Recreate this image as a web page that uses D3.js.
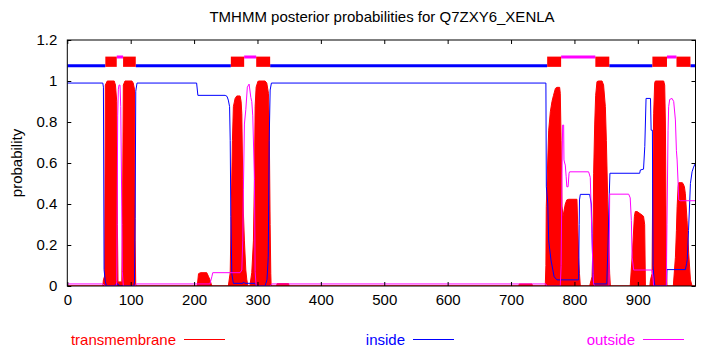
<!DOCTYPE html>
<html>
<head>
<meta charset="utf-8">
<script src="https://cdn.jsdelivr.net/npm/d3@7"></script>
<style>
  html, body { margin: 0; padding: 0; background: #fff; }
  svg { display: block; }
  text { font-family: "Liberation Sans", Arial, Helvetica, sans-serif; }
</style>
</head>
<body>
<svg id="chart" width="717" height="358"></svg>
<script>
// ---------- data ----------
const seqLength = 991;
const title = "TMHMM posterior probabilities for Q7ZXY6_XENLA";
const yLabel = "probability";
const xTickValues = [0, 100, 200, 300, 400, 500, 600, 700, 800, 900];
const xTickLabels = ["0", "100", "200", "300", "400", "500", "600", "700", "800", "900"];
const yTickValues = [0, 0.2, 0.4, 0.6, 0.8, 1.0, 1.2];
const yTickLabels = ["0", "0.2", "0.4", "0.6", "0.8", "1", "1.2"];
const legendNames = ["transmembrane", "inside", "outside"];

// transmembrane posterior probability: [residue, probability]
const tmProb = [
  [0,0],[56,0],[57,0.03],[59,0.05],[60,0.98],[63,1.0],[74,1.0],[76,0.98],[78,0.9],[79,0.3],[80,0.02],
  [86,0.02],[87,0.3],[88.4,0.98],[91,1.0],[102,1.0],[104,0.99],[106,0.96],[107,0.224],[108,0],
  [205,0],[207,0.06],[210,0.065],[220,0.065],[223,0.045],[225,0.03],[228,0],
  [254,0],[257,0.065],[258.4,0.34],[260.5,0.71],[262,0.875],[264.7,0.915],[267.4,0.927],[272.6,0.927],
  [274.2,0.9],[275.3,0.84],[276.8,0.52],[277.8,0.356],[279.4,0.22],[281.6,0.078],[283.2,0.03],[285,0],
  [288,0],[291,0.065],[293.6,0.22],[295.2,0.52],[296.3,0.875],[297.9,0.97],[300.6,0.997],[301.5,1.0],
  [312,1.0],[314.7,0.99],[317.3,0.94],[318.4,0.83],[320,0.3],[321,0.06],[321.6,0],
  [330,0],[331,0.012],[349,0.012],[350,0],
  [712,0],[713,0.01],[733,0.01],[734,0],
  [754,0],[755,0.1],[755.6,0.387],[759.4,0.76],[762,0.85],[764.6,0.9],[767,0.93],[770,0.964],
  [772.5,0.969],[776.7,0.969],[777.7,0.94],[779,0.71],[780.4,0.39],[782,0.34],[785.6,0.4],[788,0.42],
  [791,0.423],[804,0.423],[806.7,0.14],[808,0.06],[809.3,0],
  [824,0],[827.8,0.045],[829.4,0.224],[830.3,0.55],[832,0.79],[833.5,0.93],[835.6,0.997],[838,1.0],
  [843.6,1.0],[846,0.98],[848.8,0.875],[850.4,0.71],[852.5,0.42],[854,0.22],[855.6,0.06],[856.7,0],
  [888,0],[891,0.14],[892.5,0.22],[894.6,0.34],[896,0.363],[899,0.363],[906.7,0.346],[909,0.34],[910.8,0.3],[912,0],
  [919,0],[920,0.03],[922.5,0.06],[923.5,0.5],[925,0.84],[926.6,0.99],[927.7,1.0],[940.8,1.0],[942.4,0.98],
  [943.5,0.8],[945,0.14],[946,0],
  [956,0],[959.3,0.14],[960.9,0.27],[962,0.387],[963.6,0.484],[964.5,0.504],[970,0.504],[971.4,0.5],
  [973.5,0.484],[975,0.45],[977.7,0.32],[980.3,0.16],[983,0.03],[985.6,0],[991,0]
];

// inside posterior probability
const insideProb = [
  [0,0.99],[56,0.99],[57,0.97],[58,0.08],[60,0.02],[62,0.0],[75,0.0],[77,0.01],[80,0.01],[82,0.0],
  [105,0.0],[106,0.02],[107,0.33],[108,0.95],[110,0.99],
  [204,0.99],[206,0.93],[249,0.93],[252,0.925],[254,0.907],[256,0.875],[257,0.71],[258,0.34],[259.5,0.06],
  [262,0.013],[277,0.013],[278,0.02],[280,0.013],[296,0.013],[299,0.0],[312,0.0],[315,0.03],[317,0.14],
  [318.5,0.71],[320,0.956],[322,0.99],
  [755,0.99],[755.7,0.484],[758,0.4],[759.4,0.22],[761,0.18],[763,0.127],[766,0.078],[768,0.045],[772.5,0.03],
  [806.7,0.03],[807.5,0.3],[808,0.42],[809.3,0.447],[824,0.447],[826.7,0.4],[827.8,0.257],[829.4,0.03],[830.5,0.01],
  [851,0.01],[853,0.2],[855,0.45],[856,0.55],[903,0.55],[904,0.566],[909,0.57],[911,0.68],[913,0.915],
  [920,0.915],[921,0.76],[923,0.76],[924,0.1],[926,0.02],[927,0.0],[945,0.0],[946,0.08],[975,0.08],
  [977,0.11],[978,0.13],[980,0.27],[983,0.5],[985.6,0.557],[988,0.58],[991,0.6]
];

// outside posterior probability
const outsideProb = [
  [0,0.01],[56,0.01],[58,0.005],[60,0],[77,0],[78,0.02],[79,0.55],[79.5,0.83],[80.5,0.96],[81.6,0.98],
  [83.2,0.98],[84.3,0.875],[85.9,0.39],[86.8,0.07],[88.4,0],[107,0],[109,0.01],
  [225,0.01],[228,0.045],[229.5,0.065],[272.6,0.065],[275.3,0.078],[276.8,0.22],[277.8,0.47],[279.4,0.79],
  [281.6,0.86],[284,0.97],[286.8,0.985],[289.5,0.92],[291,0.9],[292.6,0.83],[295.2,0.52],[296.3,0.07],
  [297.9,0],[320,0],[322.6,0.01],
  [755,0.01],[756,0],[777.7,0],[779,0.1],[780.4,0.55],[781.4,0.785],[783,0.785],[783.5,0.615],[784.6,0.6],
  [785.6,0.59],[787,0.533],[788,0.484],[790,0.484],[791.5,0.55],[792.4,0.557],[822.4,0.557],[825,0.53],
  [827.8,0.224],[829.4,0.06],[830.3,0.01],[832,0],
  [854.5,0],[855.6,0.448],[885.6,0.448],[888,0.43],[889.8,0.32],[891,0.14],[893.5,0.078],[922.5,0.078],
  [924,0.04],[925,0],[945,0],[946,0.3],[947.7,0.76],[948.7,0.875],[950.3,0.91],[954,0.915],[956.6,0.9],
  [959.3,0.81],[960.9,0.66],[962,0.615],[963.6,0.5],[964.5,0.42],[967,0.416],[991,0.416]
];

// predicted topology segments: [start, end]
const tmSegments = [[60,78],[88,108],[258,279],[298,320],[757,779],[833,855],[923,946],[961,983]];
const insideSegments = [[0,60],[108,258],[320,757],[855,923],[983,991]];
const outsideSegments = [[78,88],[279,298],[779,833],[946,961]];

// ---------- drawing ----------
const colors = { tm: "#ff0000", inside: "#0000ff", outside: "#ff00ff" };
const svg = d3.select("#chart");
const W = 717, H = 358;
const margin = { left: 67.3, right: W - 695.5, top: 40, bottom: H - 286 };
const x = d3.scaleLinear().domain([0, seqLength]).range([margin.left, W - margin.right]);
const y = d3.scaleLinear().domain([0, 1.2]).range([H - margin.bottom, margin.top]);

svg.append("rect").attr("width", W).attr("height", H).attr("fill", "#fff");

// title
svg.append("text")
  .attr("x", 382).attr("y", 22)
  .attr("text-anchor", "middle")
  .attr("font-size", 15)
  .attr("fill", "#000")
  .text(title);

// y label
svg.append("text")
  .attr("transform", "translate(22,163) rotate(-90)")
  .attr("text-anchor", "middle")
  .attr("font-size", 15)
  .attr("fill", "#000")
  .text(yLabel);

const plot = svg.append("g");
const clipId = "clip";
svg.append("clipPath").attr("id", clipId).append("rect")
  .attr("x", x(0)).attr("y", y(1.2)).attr("width", x(seqLength) - x(0)).attr("height", y(0) - y(1.2));
plot.attr("clip-path", `url(#${clipId})`);

// TM area
const area = d3.area().x(d => x(d[0])).y0(y(0)).y1(d => y(d[1]));
plot.append("path").datum(tmProb)
  .attr("d", area).attr("fill", colors.tm).attr("stroke", colors.tm).attr("stroke-width", 1);

const line = d3.line().x(d => x(d[0])).y(d => y(d[1]));
plot.append("path").datum(insideProb)
  .attr("d", line).attr("fill", "none").attr("stroke", colors.inside).attr("stroke-width", 1);
plot.append("path").datum(outsideProb)
  .attr("d", line).attr("fill", "none").attr("stroke", colors.outside).attr("stroke-width", 1);

// topology bar
plot.selectAll(".insSeg").data(insideSegments).enter().append("line")
  .attr("x1", d => x(d[0])).attr("x2", d => x(d[1]))
  .attr("y1", y(1.074)).attr("y2", y(1.074))
  .attr("stroke", colors.inside).attr("stroke-width", 3);
plot.selectAll(".outSeg").data(outsideSegments).enter().append("line")
  .attr("x1", d => x(d[0])).attr("x2", d => x(d[1]))
  .attr("y1", y(1.117)).attr("y2", y(1.117))
  .attr("stroke", colors.outside).attr("stroke-width", 3);
plot.selectAll(".tmSeg").data(tmSegments).enter().append("rect")
  .attr("x", d => x(d[0])).attr("width", d => x(d[1]) - x(d[0]))
  .attr("y", y(1.119)).attr("height", y(1.069) - y(1.119))
  .attr("fill", colors.tm);

// axes
const fontSize = 15;
const xAxisB = d3.axisBottom(x).tickValues(xTickValues)
  .tickFormat((d, i) => xTickLabels[i]).tickSize(-4).tickPadding(8);
const xAxisT = d3.axisTop(x).tickValues(xTickValues).tickFormat("").tickSize(-4);
const yAxisL = d3.axisLeft(y).tickValues(yTickValues)
  .tickFormat((d, i) => yTickLabels[i]).tickSize(-4).tickPadding(10);
const yAxisR = d3.axisRight(y).tickValues(yTickValues).tickFormat("").tickSize(-4);

function styleAxis(g) {
  g.select(".domain").remove();
  g.selectAll("line").attr("stroke", "#000");
  g.selectAll("text").attr("font-size", fontSize).attr("fill", "#000")
    .attr("font-family", "'Liberation Sans', Arial, Helvetica, sans-serif");
}
svg.append("g").attr("transform", `translate(0,${y(0)})`).call(xAxisB).call(styleAxis);
svg.append("g").attr("transform", `translate(0,${y(1.2)})`).call(xAxisT).call(styleAxis);
svg.append("g").attr("transform", `translate(${x(0)},0)`).call(yAxisL).call(styleAxis);
svg.append("g").attr("transform", `translate(${x(seqLength)},0)`).call(yAxisR).call(styleAxis);

// frame
svg.append("rect")
  .attr("x", x(0)).attr("y", y(1.2))
  .attr("width", x(seqLength) - x(0)).attr("height", y(0) - y(1.2))
  .attr("fill", "none").attr("stroke", "#000").attr("stroke-width", 1);

// legend
const legendTextRight = [176, 405, 635];
const legendColors = [colors.tm, colors.inside, colors.outside];
const lg = svg.append("g");
legendNames.forEach((name, i) => {
  lg.append("text")
    .attr("x", legendTextRight[i]).attr("y", 345)
    .attr("text-anchor", "end").attr("font-size", fontSize)
    .attr("fill", legendColors[i]).text(name);
  lg.append("line")
    .attr("x1", legendTextRight[i] + 8).attr("x2", legendTextRight[i] + 49)
    .attr("y1", 339.5).attr("y2", 339.5)
    .attr("stroke", legendColors[i]).attr("stroke-width", 1);
});
</script>
</body>
</html>
